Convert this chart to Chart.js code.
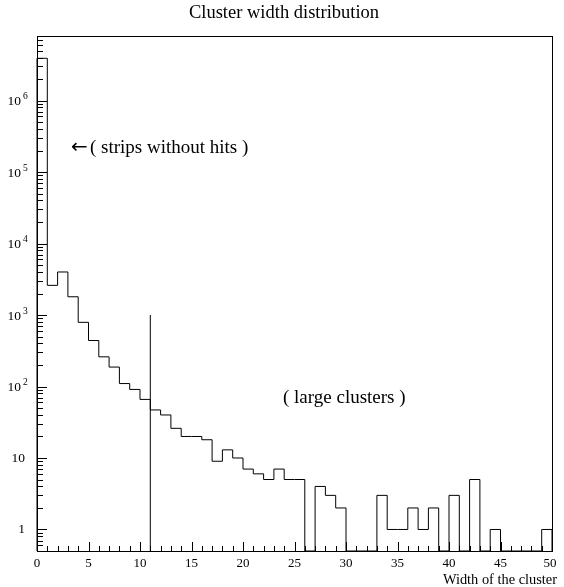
<!DOCTYPE html>
<html>
<head>
<meta charset="utf-8">
<script src="https://cdn.jsdelivr.net/npm/chart.js@4/dist/chart.umd.min.js"></script>
<style>
  html, body { margin: 0; padding: 0; background: #fff; }
  canvas { display: block; }
</style>
</head>
<body>
<canvas id="chart" width="564" height="587"></canvas>
<script>
// lower edge of each bin (width 1)
const binLow = [0, 1, 2, 3, 4, 5, 6, 7, 8, 9, 10, 11, 12, 13, 14, 15, 16, 17, 18, 19,
    20, 21, 22, 23, 24, 25, 26, 27, 28, 29, 30, 31, 32, 33, 34, 35, 36, 37, 38, 39,
    40, 41, 42, 43, 44, 45, 46, 47, 48, 49]
// counts per bin
const counts = [3900000, 2600, 4000, 1800, 790, 440, 260, 187, 110, 91, 66, 47, 40, 26, 20, 20, 18, 9, 13, 10,
    7, 6, 5, 7, 5, 5, 0, 4, 3, 2, 0, 0, 0, 3, 1, 1, 2, 1, 2, 0,
    3, 0, 5, 0, 1, 0, 0, 0, 0, 1]
const xTicks = [0, 5, 10, 15, 20, 25, 30, 35, 40, 45, 50]
const yTicks = [1, 10, 100, 1000, 10000, 100000, 1000000]
const cutX = [11, 11]
const cutY = [0.5, 1000]

const yMin = 0.5
const yMax = 8e6
const xMax = 50

// outline of the histogram: one point at the left edge of each bin,
// empty bins sit on the bottom of the frame
const histPts = [{ x: 0, y: yMin }]
binLow.forEach((x, i) => {
    histPts.push({ x: x, y: counts[i] > 0 ? counts[i] : yMin })
})
histPts.push({ x: xMax, y: yMin })

const serif = '"Liberation Serif", "Times New Roman", serif'

const rootStyle = {
    id: 'rootStyle',
    afterDraw(chart) {
        const ctx = chart.ctx
        const a = chart.chartArea
        const xs = chart.scales.x
        const ys = chart.scales.y
        ctx.save()
        ctx.strokeStyle = '#000'
        ctx.lineWidth = 1
        ctx.strokeRect(Math.round(a.left) + 0.5, Math.round(a.top) + 0.5,
            Math.round(a.right - a.left), Math.round(a.bottom - a.top))

        // x ticks, inside the frame
        ctx.beginPath()
        for (let v = 0; v <= xMax; v++) {
            const px = Math.round(xs.getPixelForValue(v)) + 0.5
            const len = v % 5 === 0 ? 9 : 5
            ctx.moveTo(px, a.bottom)
            ctx.lineTo(px, a.bottom - len)
        }
        // y ticks, log
        for (let d = -1; d <= 6; d++) {
            for (let m = 1; m <= 9; m++) {
                const v = m * Math.pow(10, d)
                if (v < yMin || v > yMax) continue
                const py = Math.round(ys.getPixelForValue(v)) + 0.5
                const len = m === 1 ? 10 : 6
                ctx.moveTo(a.left, py)
                ctx.lineTo(a.left + len, py)
            }
        }
        ctx.stroke()

        ctx.fillStyle = '#000'
        // x tick labels
        ctx.font = '13px ' + serif
        ctx.textAlign = 'center'
        ctx.textBaseline = 'middle'
        xTicks.forEach(v => {
            ctx.fillText(String(v), xs.getPixelForValue(v) - (v === xMax ? 2 : 0), a.bottom + 13)
        })
        // y tick labels
        yTicks.forEach(v => {
            const py = ys.getPixelForValue(v)
            const e = Math.round(Math.log10(v))
            ctx.textBaseline = 'middle'
            if (e <= 1) {
                ctx.font = '13.5px ' + serif
                ctx.textAlign = 'right'
                ctx.fillText(String(v), 25, py)
            } else {
                ctx.font = '13.5px ' + serif
                ctx.textAlign = 'right'
                ctx.fillText('10', 21, py + 1)
                ctx.font = '9.5px ' + serif
                ctx.textAlign = 'left'
                ctx.fillText(String(e), 23, py - 4)
            }
        })

        // title and axis title
        ctx.font = '18.5px ' + serif
        ctx.textAlign = 'center'
        ctx.textBaseline = 'middle'
        ctx.fillText('Cluster width distribution', 284, 13)
        ctx.font = '14.4px ' + serif
        ctx.textAlign = 'right'
        ctx.fillText('Width of the cluster', 557, 580)

        // annotations
        ctx.textAlign = 'left'
        ctx.font = '20px "DejaVu Sans", sans-serif'
        ctx.fillText('\u2190', 71, 148)
        ctx.font = '19px ' + serif
        ctx.fillText('( strips without hits )', 90, 148)
        ctx.fillText('( large clusters )', 283, 398)
        ctx.restore()
    }
}

new Chart(document.getElementById('chart'), {
    type: 'line',
    data: {
        datasets: [{
            data: histPts,
            stepped: 'before',
            borderColor: '#000',
            borderWidth: 1,
            pointRadius: 0,
            fill: false,
            clip: false
        }, {
            data: cutX.map((x, i) => ({ x: x, y: cutY[i] })),
            borderColor: '#000',
            borderWidth: 1,
            pointRadius: 0,
            fill: false
        }]
    },
    options: {
        responsive: false,
        animation: false,
        events: [],
        layout: { padding: { left: 37, right: 12, top: 36, bottom: 36 } },
        plugins: { legend: { display: false }, tooltip: { enabled: false } },
        scales: {
            x: { type: 'linear', min: 0, max: xMax, display: false },
            y: { type: 'logarithmic', min: yMin, max: yMax, display: false }
        }
    },
    plugins: [rootStyle]
});
</script>
</body>
</html>
